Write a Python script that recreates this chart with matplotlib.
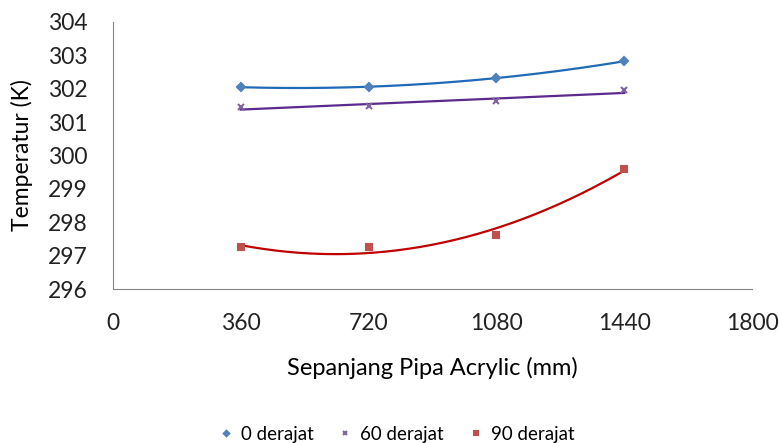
import numpy as np
import matplotlib.pyplot as plt

plt.rcParams['font.family'] = ['Lato', 'DejaVu Sans']

jarak = [360, 720, 1080, 1440]
suhu_0 = [302.05, 302.05, 302.33, 302.82]
suhu_60 = [301.45, 301.47, 301.63, 301.95]
suhu_90 = [297.25, 297.27, 297.63, 299.61]

x_ticks = [0, 360, 720, 1080, 1440, 1800]
y_ticks = [296, 297, 298, 299, 300, 301, 302, 303, 304]

# name, values, marker, marker colour, trendline colour, marker size, trend order
seri = [
    ('0 derajat', suhu_0, 'D', '#4F81BD', '#1F6BB5', 4, 2),
    ('60 derajat', suhu_60, 'x', '#8064A2', '#5C2A8E', 5, 1),
    ('90 derajat', suhu_90, 's', '#C0504D', '#C00000', 5, 2),
]

fig = plt.figure(figsize=(7.79, 4.43), dpi=100)
ax = fig.add_axes([113 / 779, 1 - 289 / 443, (752 - 113) / 779, (289 - 22) / 443])

xs = np.linspace(jarak[0], jarak[-1], 200)
for nama, y, m, c_mark, c_line, ms, order in seri:
    # Excel-style trendline
    koef = np.polyfit(jarak, y, order)
    ax.plot(xs, np.polyval(koef, xs), color=c_line, lw=1.6, zorder=2)
    ax.plot(jarak, y, linestyle='none', marker=m, color=c_mark, ms=ms,
            mew=1.5, label=nama, zorder=3)

ax.set_xlim(0, 1800)
ax.set_ylim(296, 304)
ax.set_xticks(x_ticks)
ax.set_yticks(y_ticks)
ax.tick_params(length=0, labelsize=16.5, colors='#222222')
ax.tick_params(axis='x', pad=17)
ax.tick_params(axis='y', pad=18)
for s in ['top', 'right']:
    ax.spines[s].set_visible(False)
for s in ['left', 'bottom']:
    ax.spines[s].set_color('#868686')
ax.set_xlabel('Sepanjang Pipa Acrylic (mm)', fontsize=17, labelpad=17)
ax.set_ylabel('Temperatur (K)', fontsize=16.5, labelpad=11)

ax.legend(loc='center', bbox_to_anchor=(0.445, -0.545), ncol=3, frameon=False,
          fontsize=13.5, handlelength=0.6, handletextpad=0.5, columnspacing=1.4,
          markerscale=0.7)

fig.savefig('out.png', dpi=100)
